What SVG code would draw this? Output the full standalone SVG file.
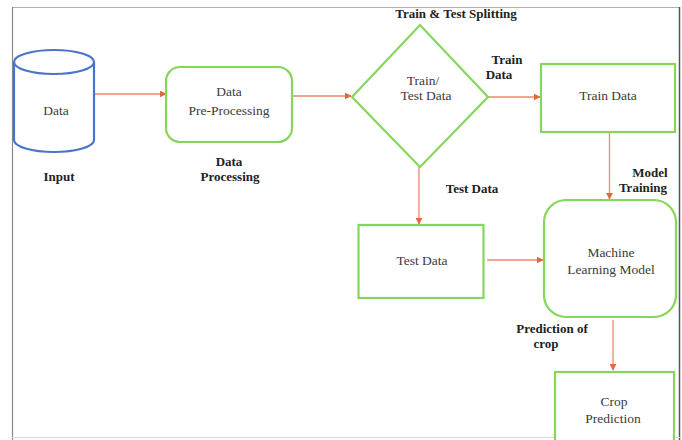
<svg xmlns="http://www.w3.org/2000/svg" width="682" height="440" viewBox="0 0 682 440">
  <style>
    .txt { font-family: "Liberation Serif", "Times New Roman", serif; font-size: 13.5px; fill: #3a3a3a; text-anchor: middle; }
    .lbl { font-family: "Liberation Serif", "Times New Roman", serif; font-size: 13px; font-weight: bold; fill: #222; text-anchor: middle; }
    .box { fill: #ffffff; stroke: #86d65c; stroke-width: 2.2; }
    .cyl { fill: #ffffff; stroke: #4a74c9; stroke-width: 2.2; }
    .conn { stroke: #ea8a6c; stroke-width: 1.3; fill: none; marker-end: url(#ah); }
  </style>
  <defs>
    <marker id="ah" viewBox="0 0 10 10" refX="9" refY="5" markerWidth="7" markerHeight="7" markerUnits="userSpaceOnUse" orient="auto">
      <path d="M0,0 L10,5 L0,10 z" fill="#e2683f"/>
    </marker>
  </defs>
  <rect x="0" y="0" width="682" height="440" fill="#ffffff"/>
  <!-- frame -->
  <g id="frame">
    <line x1="12" y1="7.5" x2="680" y2="7.5" stroke="#b0b0b0" stroke-width="1"/>
    <line x1="12.5" y1="7" x2="12.5" y2="440" stroke="#8a8a8a" stroke-width="1.2"/>
    <line x1="679.5" y1="7" x2="679.5" y2="440" stroke="#555" stroke-width="1.5"/>
    <line x1="12" y1="437.5" x2="680" y2="437.5" stroke="#d8d8d8" stroke-width="1"/>
  </g>

  <g id="connectors">
    <line class="conn" x1="95" y1="94" x2="166" y2="94"/>
    <line class="conn" x1="292" y1="96" x2="351" y2="96"/>
    <line class="conn" x1="488" y1="97" x2="540" y2="97"/>
    <line class="conn" x1="609.5" y1="132" x2="609.5" y2="199"/>
    <line class="conn" x1="419" y1="167" x2="419" y2="224"/>
    <line class="conn" x1="487" y1="260" x2="543" y2="260"/>
    <line class="conn" x1="613" y1="320" x2="613" y2="370"/>
  </g>

  <g id="input">
    <path class="cyl" d="M14,62 L14,140 A40,12 0 0 0 94,140 L94,62"/>
    <ellipse class="cyl" cx="54" cy="62" rx="40" ry="12"/>
    <text class="txt" x="56" y="115">Data</text>
    <text class="lbl" x="59" y="181">Input</text>
  </g>

  <g id="preprocessing">
    <rect class="box" x="166" y="67" width="126" height="75" rx="14"/>
    <text class="txt" x="229" y="96">Data</text>
    <text class="txt" x="229" y="115">Pre-Processing</text>
    <text class="lbl" x="229" y="166">Data</text>
    <text class="lbl" x="230" y="181">Processing</text>
  </g>

  <g id="split">
    <polygon class="box" points="352,97 420,25 488,97 420,167"/>
    <text class="txt" x="423" y="85">Train/</text>
    <text class="txt" x="426" y="100">Test Data</text>
    <text class="lbl" x="456" y="18">Train &amp; Test Splitting</text>
    <text class="lbl" x="507" y="64">Train</text>
    <text class="lbl" x="499" y="78.5">Data</text>
    <text class="lbl" x="472" y="193">Test Data</text>
  </g>

  <g id="train-data">
    <rect class="box" x="541" y="64" width="134" height="68"/>
    <text class="txt" x="608" y="100">Train Data</text>
    <text class="lbl" x="650" y="177">Model</text>
    <text class="lbl" x="643" y="192">Training</text>
  </g>

  <g id="test-data">
    <rect class="box" x="358.5" y="225" width="125" height="73"/>
    <text class="txt" x="422" y="265">Test Data</text>
  </g>

  <g id="ml-model">
    <rect class="box" x="544" y="200" width="132" height="117" rx="22"/>
    <text class="txt" x="611" y="257">Machine</text>
    <text class="txt" x="611" y="274">Learning Model</text>
    <text class="lbl" x="552" y="333">Prediction of</text>
    <text class="lbl" x="546" y="348">crop</text>
  </g>

  <g id="crop-prediction">
    <rect class="box" x="555" y="372" width="119" height="80"/>
    <text class="txt" x="614" y="406">Crop</text>
    <text class="txt" x="613" y="423">Prediction</text>
  </g>
</svg>
